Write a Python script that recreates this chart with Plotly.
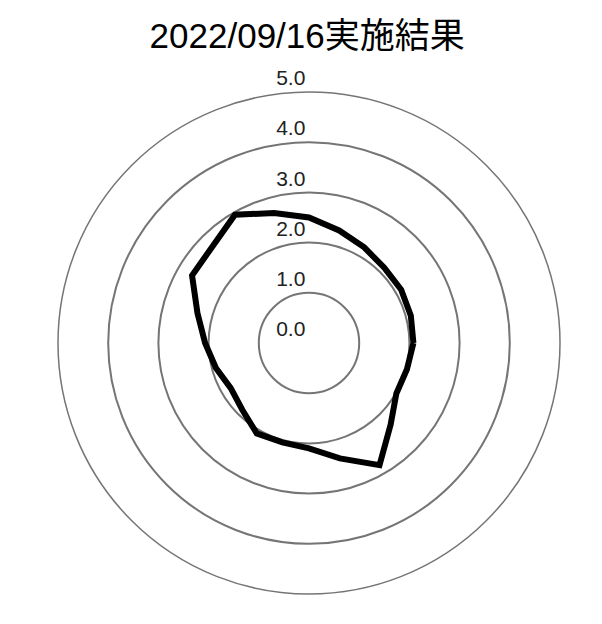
import plotly.graph_objects as go

# 角度(度)と評価値
angulos = [0, 15, 30, 45, 60, 75, 90, 105, 120, 135, 150, 165,
           180, 195, 210, 225, 240, 255, 270, 285, 300, 315, 330, 345]
valores = [2.08, 2.10, 2.12, 2.12, 2.20, 2.32, 2.50, 2.68, 2.95, 2.72, 2.69, 2.30,
           2.07, 1.92, 1.80, 1.88, 2.08, 2.05, 2.10, 2.38, 2.81, 2.30, 2.01, 2.02]

titulo = "2022/09/16実施結果"
ticks = [0, 1, 2, 3, 4, 5]

# cerrar el polígono
theta = angulos + [angulos[0]]
r = valores + [valores[0]]

# etiquetas con una línea vacía debajo para que queden sobre el círculo
etiquetas = [f"{t:.1f}<br> " for t in ticks]

fig = go.Figure()
fig.add_trace(go.Scatterpolar(r=r, theta=theta, mode="lines",
                              line=dict(color="black", width=6),
                              showlegend=False, hoverinfo="skip"))

fig.update_layout(
    width=602, height=624,
    margin=dict(l=50, r=50, t=84, b=38),
    paper_bgcolor="white",
    font=dict(family="Liberation Sans, Noto Sans CJK JP", color="#222"),
    title=dict(text=titulo, x=0.497, xanchor="center", y=0.956, yanchor="middle",
               font=dict(size=35, color="black")),
    polar=dict(
        bgcolor="white",
        radialaxis=dict(range=[0, 5], tickvals=ticks, ticktext=etiquetas,
                        angle=90, tickangle=90, side="counterclockwise",
                        showline=False, ticks="",
                        gridcolor="#757575", gridwidth=1.5,
                        tickfont=dict(size=21, color="#222")),
        angularaxis=dict(showticklabels=False, showgrid=False, ticks="",
                         showline=True, linecolor="#757575", linewidth=1.5),
    ),
)

fig.write_html("out.html")
